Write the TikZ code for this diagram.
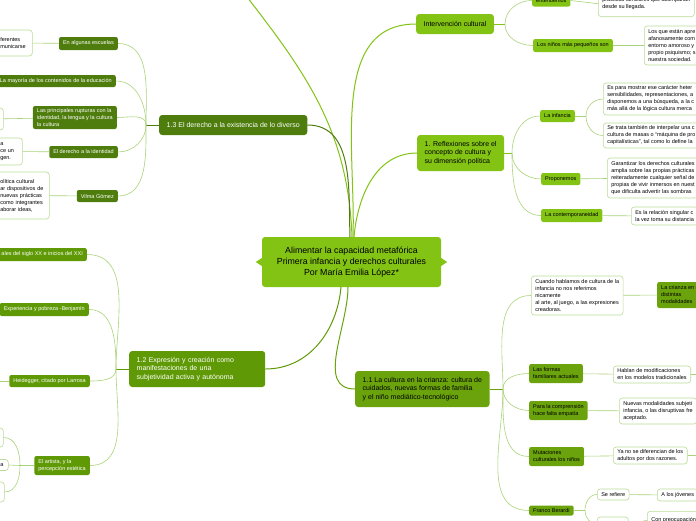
\documentclass[tikz,border=0pt]{standalone}
\usepackage{fontspec}
\setmainfont{Liberation Sans}
\definecolor{limegreen}{HTML}{82C314}
\definecolor{olivegreen}{HTML}{4E7D0E}
\definecolor{grassgreen}{HTML}{5F9A06}
\definecolor{leafgreen}{HTML}{6AA30C}
\definecolor{leafline}{HTML}{B9DB95}
\definecolor{linkline}{HTML}{A9D37A}
\tikzset{
  central/.style={fill=limegreen, rounded corners=3pt, align=center, font=\fontsize{8.8}{11}\selectfont},
  topic/.style={rounded corners=3pt, inner xsep=7.5pt, inner ysep=2pt, align=left, font=\fontsize{7}{8.5}\selectfont},
  subtopic/.style={rounded corners=2pt, inner xsep=4pt, inner ysep=1.5pt, align=left, font=\fontsize{5.5}{7}\selectfont},
  leaf/.style={subtopic, draw=leafline, line width=0.6pt, fill=white, rounded corners=3pt},
  oliveset/.style={fill=olivegreen, text=white},
  grassset/.style={fill=grassgreen, text=white},
  limeset/.style={fill=limegreen},
  leafset/.style={fill=leafgreen},
  link/.style={draw=linkline, line width=0.6pt},
  branch/.style={line width=1pt}
}
\begin{document}
\begin{tikzpicture}[x=1pt,y=-1pt]
\useasboundingbox (0,0) rectangle (696,520);
\clip (0,0) rectangle (696,520);

% Central topic
\node[central, minimum width=179pt, minimum height=50pt] (root) at (351.5,262)
  {Alimentar la capacidad metafórica\\Primera infancia y derechos culturales\\Por María Emilia López*};
\fill[limegreen] (root.west) ++(0,-4) -- ++(-6,4) -- ++(6,4) -- cycle;
\fill[limegreen] (root.east) ++(0,-4) -- ++(6,4) -- ++(-6,4) -- cycle;

% Main topics
\node[topic, oliveset, anchor=west, minimum height=20pt] (diverso) at (159,125) {1.3 El derecho a la existencia de lo diverso};
\node[topic, grassset, anchor=west, minimum height=36pt, text width=121pt] (expresion) at (129,369)
  {1.2 Expresión y creación como\\manifestaciones de una\\subjetividad activa y autónoma};
\node[topic, limeset, anchor=west, minimum height=36pt] (reflexion) at (417,153)
  {1. Reflexiones sobre el\\concepto de cultura y\\su dimensión política};
\node[topic, limeset, anchor=west, minimum height=20pt] (intervencion) at (416,24) {Intervención cultural};
\node[topic, leafset, anchor=west, minimum height=36pt] (crianza) at (355,389)
  {1.1 La cultura en la crianza: cultura de\\cuidados, nuevas formas de familia\\y el niño mediático-tecnológico};

% Links from the central topic
\coordinate (offT) at (240,-12);
\draw[branch, limegreen] (352,237) to[out=92,in=-52] (offT);
\draw[branch, olivegreen] (diverso.east) to[out=0,in=92] (350,237);
\draw[branch, limegreen] (intervencion.west) to[out=180,in=88] (353,237);
\draw[branch, limegreen] (reflexion.west) to[out=180,in=85] (354,237);
\draw[branch, grassgreen] (341,287) to[out=-95,in=0] (expresion.east);
\draw[branch, leafgreen] (348,287) to[out=-90,in=180] (crianza.west);

% 1.3 subtopics
\node[subtopic, oliveset, anchor=east, minimum height=13pt] (escuelas) at (118,43.5) {En algunas escuelas};
\node[subtopic, oliveset, anchor=east, minimum height=12pt] (contenidos) at (116,81) {La mayoría de los contenidos de la educación};
\node[subtopic, oliveset, anchor=east, minimum height=23pt] (rupturas) at (117,117.5)
  {Las principales rupturas con la\\identidad, la lengua y la cultura\\la cultura};
\node[subtopic, oliveset, anchor=east, minimum height=12pt] (identidad) at (118,152) {El derecho a la identidad};
\node[subtopic, oliveset, anchor=east, minimum height=12pt] (vilma) at (118,196) {Vilma Gómez};
\node[leaf, anchor=west, text width=28pt, minimum height=26pt] (escuelasA) at (-4,43) {ferentes\\municarse};
\node[leaf, anchor=west, text width=15pt, minimum height=22pt] (rupturasA) at (-20,119) {};
\node[leaf, anchor=west, text width=18pt, minimum height=27pt] (identidadA) at (-4,151.5) {a\\ce un\\gen.};
\node[leaf, anchor=west, text width=45pt, minimum height=47pt] (vilmaA) at (-4,195.5)
  {olítica cultural\\ar dispositivos de\\ nuevas prácticas\\como integrantes\\aborar ideas,};
\coordinate (hubD) at (146,125);
\draw[link, olivegreen] (diverso.west) -- (hubD);
\draw[link] (escuelas.east) to[out=0,in=90] (hubD);
\draw[link] (contenidos.east) to[out=0,in=90] (hubD);
\draw[link] (rupturas.east) to[out=0,in=90] (hubD);
\draw[link] (identidad.east) to[out=0,in=-90] (hubD);
\draw[link] (vilma.east) to[out=0,in=-90] (hubD);
\draw[link] (escuelasA) -- (escuelas);
\draw[link] (rupturasA) -- (rupturas);
\draw[link] (identidadA) -- (identidad);
\draw[link] (vilmaA) -- (vilma);

% 1.2 subtopics
\node[subtopic, grassset, anchor=east, minimum height=13pt] (siglo) at (87,254.5) {ales del siglo XX e inicios del XXI};
\node[subtopic, grassset, anchor=east, minimum height=13pt] (pobreza) at (89,309.5) {Experiencia y pobreza -Benjamín};
\node[subtopic, grassset, anchor=east, minimum height=12pt] (heidegger) at (90,381) {Heidegger, citado por Larrosa};
\node[subtopic, grassset, anchor=east, minimum height=19pt] (artista) at (90,465.5) {El artista, y la\\percepción estética};
\node[leaf, anchor=west, text width=15pt, minimum height=19pt] (artistaA) at (-20,437.5) {};
\node[leaf, anchor=west, text width=4pt, minimum height=11pt] (artistaB) at (-4,465) {a};
\node[leaf, anchor=west, text width=16pt, minimum height=20pt] (artistaC) at (-20,492) {};
\coordinate (hubE) at (116,369);
\coordinate (hubA) at (20,465.5);
\coordinate (offH) at (-5,381);
\draw[link, grassgreen] (expresion.west) -- (hubE);
\draw[link] (siglo.east) to[out=0,in=90] (hubE);
\draw[link] (pobreza.east) to[out=0,in=90] (hubE);
\draw[link] (heidegger.east) to[out=0,in=-90] (hubE);
\draw[link] (artista.east) to[out=0,in=-90] (hubE);
\draw[link] (heidegger.west) -- (offH);
\draw[link] (artista.west) -- (hubA);
\draw[link] (hubA) to[out=90,in=0] (artistaA.east);
\draw[link] (hubA) -- (artistaB.east);
\draw[link] (hubA) to[out=-90,in=0] (artistaC.east);

% 1. Reflexiones subtopics
\node[subtopic, limeset, anchor=west, minimum height=12pt] (infancia) at (540,116) {La infancia};
\node[subtopic, limeset, anchor=west, minimum height=12pt] (proponemos) at (541,179) {Proponemos};
\node[subtopic, limeset, anchor=west, minimum height=13pt] (contemp) at (541,215.5) {La contemporaneidad};
\node[leaf, anchor=west, minimum height=32pt] (infanciaA) at (603,99)
  {Es para mostrar ese carácter heter\\sensibilidades, representaciones, a\\disponemos a una búsqueda, a la c\\más allá de la lógica cultura merca};
\node[leaf, anchor=west, minimum height=25pt] (infanciaB) at (603,135.5)
  {Se trata también de interpelar una c\\cultura de masas o “máquina de pro\\capitalísticas”, tal como lo define la};
\node[leaf, anchor=west, minimum height=40pt] (proponemosA) at (607,178)
  {Garantizar los derechos culturales\\amplia sobre las propias prácticas\\reiteradamente cualquier señal de\\propias de vivir inmersos en nuest\\que dificulta advertir las sombras};
\node[leaf, anchor=west, minimum height=18pt] (contempA) at (631,216) {Es la relación singular c\\la vez toma su distancia};
\coordinate (hubR) at (512,153);
\coordinate (hubI) at (586,116);
\draw[link, limegreen] (reflexion.east) -- (hubR);
\draw[link] (hubR) to[out=90,in=180] (infancia.west);
\draw[link] (hubR) to[out=-90,in=180] (proponemos.west);
\draw[link] (hubR) to[out=-90,in=180] (contemp.west);
\draw[link] (infancia.east) -- (hubI);
\draw[link] (hubI) to[out=90,in=180] (infanciaA.west);
\draw[link] (hubI) to[out=-90,in=180] (infanciaB.west);
\draw[link] (proponemos) -- (proponemosA);
\draw[link] (contemp) -- (contempA);

% Intervencion cultural subtopics
\node[subtopic, limeset, anchor=west, minimum height=12pt, minimum width=38pt] (entendemos) at (532,0.5) {entendemos};
\node[subtopic, limeset, anchor=west, minimum height=13pt] (pequenos) at (533,45.5) {Los niños más pequeños son};
\node[leaf, anchor=south west, minimum height=26pt] (entendemosA) at (598,17)
  {prácticas familiares que acompañan\\desde su llegada.};
\node[leaf, anchor=west, minimum height=39pt] (pequenosA) at (644,45.5)
  {Los que están apre\\afanosamente com\\entorno amoroso y\\propio psiquismo; s\\nuestra sociedad.};
\coordinate (hubC) at (505,24);
\draw[link, limegreen] (intervencion.east) -- (hubC);
\draw[link] (hubC) to[out=90,in=180] (entendemos.west);
\draw[link] (hubC) to[out=-90,in=180] (pequenos.west);
\draw[link] (entendemos.east) -- (entendemosA.west);
\draw[link] (pequenos) -- (pequenosA);

% 1.1 subtopics
\node[leaf, anchor=west, minimum height=39pt] (cuando) at (531,295.5)
  {Cuando hablamos de cultura de la\\infancia no nos referimos\\nicamente\\al arte, al juego, a las expresiones\\creadoras.};
\node[subtopic, leafset, anchor=west, minimum height=26pt] (modalidades) at (657,295) {La crianza en s\\distintas\\modalidades};
\node[subtopic, leafset, anchor=west, minimum height=19pt] (formas) at (529,373.5) {Las formas\\familiares actuales};
\node[leaf, anchor=west, minimum height=17pt] (formasA) at (613,374.5) {Hablan de modificaciones\\en los modelos tradicionales};
\node[subtopic, leafset, anchor=west, minimum height=19pt] (empatia) at (529,410.5) {Para la comprensión\\hace falta empatía};
\node[leaf, anchor=west, minimum height=26pt] (empatiaA) at (619,411)
  {Nuevas modalidades subjeti\\infancia, o las disruptivas fre\\aceptado.};
\node[subtopic, leafset, anchor=west, minimum height=19pt] (mutaciones) at (529,456.5) {Mutaciones\\culturales los niños};
\node[leaf, anchor=west, minimum height=17pt] (mutacionesA) at (613,455.5) {Ya no se diferencian de los\\adultos por dos razones.};
\node[subtopic, leafset, anchor=west, minimum height=10pt] (berardi) at (529,510.5) {Franco Berardi};
\node[leaf, anchor=west, minimum height=11pt] (refiere) at (597,494.5) {Se refiere};
\node[leaf, anchor=west, minimum height=12pt] (jovenes) at (657,495) {A los jóvenes};
\node[leaf, anchor=west, minimum height=14pt, minimum width=31pt] (berardiB) at (597,524) {};
\node[leaf, anchor=north west, minimum height=18pt] (preocupacion) at (647,511) {Con preocupación};
\coordinate (hubF) at (503,389);
\coordinate (hubB) at (585,510.5);
\coordinate (offF) at (700,374.5);
\coordinate (offM) at (700,455.5);
\draw[link, leafgreen] (crianza.east) -- (hubF);
\draw[link] (hubF) to[out=90,in=180] (cuando.west);
\draw[link] (hubF) to[out=90,in=180] (formas.west);
\draw[link] (hubF) to[out=-90,in=180] (empatia.west);
\draw[link] (hubF) to[out=-90,in=180] (mutaciones.west);
\draw[link] (hubF) to[out=-90,in=180] (berardi.west);
\draw[link] (cuando) -- (modalidades);
\draw[link] (formas) -- (formasA);
\draw[link] (formasA) -- (offF);
\draw[link] (empatia) -- (empatiaA);
\draw[link] (mutaciones) -- (mutacionesA);
\draw[link] (mutacionesA) -- (offM);
\draw[link] (berardi.east) -- (hubB);
\draw[link] (hubB) to[out=90,in=180] (refiere.west);
\draw[link] (hubB) to[out=-90,in=180] (berardiB.west);
\draw[link] (refiere) -- (jovenes);
\draw[link] (berardiB.east) -- (preocupacion.west);
\end{tikzpicture}
\end{document}
